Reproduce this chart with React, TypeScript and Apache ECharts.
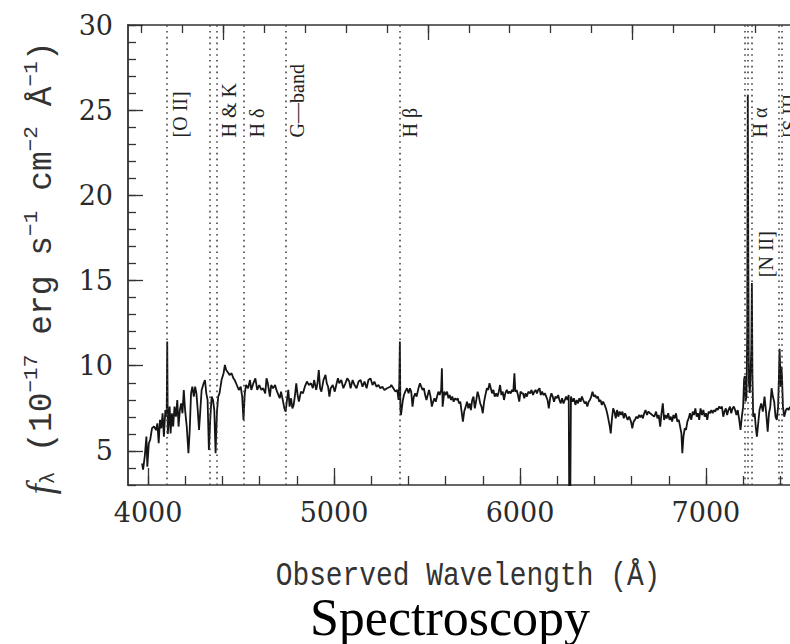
import React, { useEffect, useRef } from 'react';
import * as echarts from 'echarts';

// ---- axis ranges & ticks ----
const X_MIN = 3892;
const X_MAX = 7452;
const Y_MIN = 3;
const Y_MAX = 30;
const redshift = 0.1009;

const xMajorTicks = [4000, 5000, 6000, 7000];
const xMinorTicks = [4000, 4200, 4400, 4600, 4800, 5000, 5200, 5400, 5600, 5800, 6000, 6200, 6400, 6600, 6800, 7000, 7200, 7400];
const restMajorTicks = [4000, 5000, 6000];
const restMinorTicks = [3600, 3800, 4000, 4200, 4400, 4600, 4800, 5000, 5200, 5400, 5600, 5800, 6000, 6200, 6400, 6600];
const yMajorTicks = [5, 10, 15, 20, 25, 30];
const yMinorTicks = [3, 4, 5, 6, 7, 8, 9, 10, 11, 12, 13, 14, 15, 16, 17, 18, 19, 20, 21, 22, 23, 24, 25, 26, 27, 28, 29, 30];

// ---- spectral features (rest wavelengths, Å) ----
const lineRest = [3727, 3934, 3969, 4102, 4304, 4861, 6548, 6563, 6583, 6716, 6731];
const labelTexts = ['[O II]', 'H & K', 'H δ', 'G—band', 'H β', 'H α', '[N II]', '[S II]'];
const labelRest = [3727, 3969, 4102, 4304, 4861, 6563, 6583, 6731];
const labelFlux = [23.4, 23.4, 23.4, 23.4, 23.4, 23.4, 15.2, 23.4];

// ---- observed spectrum [wavelength Å, flux] ----
const spectrum: [number, number][] = [
  [3968, 4.27], [3973, 3.9], [3982, 4.66], [3991, 5.84], [3996, 4.08], [4004, 5.45], [4011, 5.64], [4021, 6.33], [4032, 6.43], [4043, 6.23],
  [4050, 6.62], [4057, 5.45], [4064, 6.82], [4071, 6.33], [4078, 7.21], [4085, 5.84], [4093, 7.4], [4100, 7.01], [4103, 11.42], [4106, 6.0],
  [4109, 6.43], [4116, 7.6], [4121, 6.03], [4128, 7.21], [4135, 6.43], [4142, 7.6], [4150, 7.01], [4157, 7.99], [4164, 6.43], [4171, 7.4],
  [4178, 7.79], [4185, 7.21], [4192, 8.58], [4199, 7.4], [4208, 6.43], [4217, 4.86], [4224, 6.23], [4231, 8.38], [4238, 8.77], [4246, 8.19],
  [4253, 8.77], [4260, 8.38], [4267, 7.4], [4274, 6.23], [4281, 7.4], [4288, 8.58], [4299, 8.97], [4306, 9.16], [4313, 8.38], [4320, 7.99],
  [4327, 5.05], [4335, 7.01], [4342, 8.19], [4349, 7.99], [4356, 7.4], [4363, 4.86], [4370, 7.21], [4377, 8.19], [4384, 8.38], [4395, 9.16],
  [4406, 9.56], [4413, 10.05], [4420, 9.75], [4427, 9.65], [4438, 9.46], [4449, 9.56], [4459, 9.26], [4466, 9.16], [4477, 8.87], [4488, 8.58],
  [4498, 8.77], [4506, 8.19], [4513, 6.82], [4520, 8.38], [4527, 8.87], [4538, 8.68], [4548, 9.16], [4555, 8.58], [4566, 8.97], [4577, 9.26],
  [4587, 8.58], [4598, 8.87], [4609, 8.58],
  [4619, 8.68], [4630, 8.38], [4637, 9.26], [4644, 8.97], [4655, 8.19], [4662, 8.87], [4672, 8.68], [4683, 8.87], [4690, 8.58], [4701, 8.28],
  [4708, 8.09], [4715, 8.48], [4726, 7.89], [4733, 7.5], [4740, 7.31], [4747, 7.99], [4754, 8.58], [4761, 7.6], [4769, 8.09], [4776, 7.5],
  [4783, 7.7], [4790, 8.28], [4797, 8.97], [4804, 8.28], [4811, 7.89], [4822, 8.48], [4833, 8.38], [4843, 8.77], [4854, 9.07], [4865, 8.87],
  [4876, 8.97], [4886, 8.68], [4893, 9.16], [4904, 8.58], [4911, 8.97], [4918, 9.75], [4925, 8.68], [4932, 8.48], [4943, 9.16], [4954, 9.46],
  [4961, 8.97], [4968, 8.77], [4975, 8.19], [4982, 8.68], [4993, 8.87], [5004, 8.48], [5014, 8.97], [5021, 9.26], [5028, 8.97], [5039, 9.16],
  [5050, 8.68], [5061, 8.97], [5071, 9.26], [5082, 9.07], [5089, 8.68], [5100, 9.16], [5110, 8.87], [5121, 8.68], [5132, 9.07], [5143, 9.16],
  [5153, 8.77], [5164, 9.07], [5175, 8.68], [5185, 9.16], [5196, 9.26], [5207, 8.87], [5217, 9.07], [5228, 8.77], [5239, 8.87], [5249, 8.68],
  [5260, 8.77], [5271, 8.58], [5285, 8.68], [5303, 8.77],
  [5308, 8.87], [5319, 8.68], [5330, 8.48], [5340, 8.58], [5347, 7.99], [5351, 9.0], [5354, 11.42], [5357, 7.4], [5360, 7.1], [5369, 7.89],
  [5376, 8.28], [5383, 8.48], [5392, 8.68], [5401, 8.38], [5408, 8.68], [5415, 8.48], [5422, 7.6], [5429, 8.19], [5437, 8.38], [5444, 8.19],
  [5454, 8.68], [5462, 8.97], [5469, 8.77], [5476, 8.58], [5483, 8.68], [5490, 8.28], [5497, 7.99], [5504, 8.28], [5511, 8.58], [5519, 8.19],
  [5526, 7.6], [5533, 7.89], [5540, 8.09], [5547, 7.89], [5554, 8.19], [5561, 8.48], [5568, 8.28], [5576, 8.58], [5580, 9.85], [5584, 7.6],
  [5593, 8.48], [5601, 8.28], [5608, 8.48], [5615, 8.09], [5622, 8.28], [5629, 7.99], [5636, 8.19], [5643, 7.89], [5650, 8.09], [5658, 7.99],
  [5665, 8.09], [5672, 7.79], [5679, 7.89], [5686, 7.31], [5693, 6.72], [5700, 7.31], [5708, 7.6], [5715, 7.89], [5722, 7.5], [5729, 7.79],
  [5736, 7.4], [5743, 7.99], [5750, 8.19], [5757, 7.5], [5765, 7.99], [5772, 8.48], [5779, 8.19], [5786, 7.79], [5793, 7.6], [5800, 7.21],
  [5807, 7.89], [5814, 8.28], [5822, 8.68], [5829, 8.58], [5836, 8.97], [5843, 8.68], [5850, 8.38], [5857, 8.58], [5864, 8.19], [5872, 8.38],
  [5879, 8.19], [5886, 8.48], [5893, 8.87], [5900, 8.28], [5907, 8.48], [5914, 7.99], [5921, 8.38], [5929, 8.58], [5936, 8.38], [5943, 8.48],
  [5950, 8.38], [5957, 8.58], [5964, 8.48], [5970, 9.56], [5975, 8.48], [5982, 8.58], [5989, 8.28], [5996, 7.89], [6003, 8.48], [6011, 8.38],
  [6016, 8.38], [6023, 8.09], [6030, 8.38], [6037, 8.19], [6045, 8.48], [6055, 8.38], [6062, 8.58], [6070, 8.28], [6077, 8.48], [6084, 8.58],
  [6091, 8.38], [6098, 8.58], [6105, 8.68], [6112, 8.28], [6119, 8.48], [6126, 8.28], [6134, 8.38], [6141, 8.19], [6148, 7.99], [6155, 7.5],
  [6162, 8.09], [6169, 8.38], [6176, 8.19], [6183, 7.89], [6191, 8.19], [6198, 8.09], [6205, 8.28], [6212, 7.99], [6219, 7.79], [6226, 8.09],
  [6234, 7.79], [6241, 7.99], [6248, 8.19], [6255, 7.99], [6262, 8.28], [6265, 1.5], [6270, 1.5], [6274, 8.19], [6283, 7.89], [6290, 8.09],
  [6298, 7.7], [6305, 7.99], [6312, 7.79], [6319, 8.09], [6326, 7.89], [6333, 8.19], [6340, 7.99], [6348, 7.79], [6355, 7.89], [6362, 7.6],
  [6369, 7.89], [6376, 7.99], [6383, 8.19], [6390, 8.48], [6397, 8.19], [6405, 8.28], [6412, 8.09], [6419, 8.19], [6426, 7.89], [6433, 7.99],
  [6440, 7.7], [6447, 7.89], [6455, 7.7], [6462, 7.5], [6469, 7.21], [6476, 6.82], [6483, 6.43], [6488, 6.03], [6494, 6.82], [6501, 7.5],
  [6508, 7.31], [6515, 6.91], [6522, 7.4], [6529, 7.01], [6536, 7.31], [6544, 7.11], [6551, 7.31], [6558, 6.91], [6565, 7.21], [6572, 7.01],
  [6579, 6.82], [6587, 7.01], [6597, 6.72], [6604, 6.33], [6611, 6.72], [6618, 6.82], [6626, 7.01], [6633, 6.91], [6640, 7.11], [6647, 6.97],
  [6654, 7.11], [6661, 6.91], [6668, 7.21], [6675, 7.4], [6683, 7.11], [6690, 7.31], [6700, 7.21], [6711, 7.11],
  [6722, 7.01], [6732, 7.31], [6739, 6.91], [6746, 7.11], [6754, 6.43], [6761, 7.21], [6768, 7.79], [6775, 6.82], [6782, 7.11], [6789, 6.91],
  [6797, 7.21], [6804, 6.82], [6811, 7.01], [6818, 6.72], [6825, 7.11], [6832, 6.91], [6839, 7.21], [6846, 6.72], [6854, 6.82], [6861, 6.43],
  [6868, 6.03], [6873, 4.86], [6879, 5.84], [6886, 6.33], [6893, 6.23], [6900, 6.72], [6907, 6.91], [6914, 7.21], [6921, 6.82], [6929, 7.31],
  [6936, 7.11], [6943, 7.5], [6950, 7.01], [6957, 7.21], [6964, 6.82], [6971, 7.5], [6979, 7.11], [6986, 7.4], [6993, 7.01], [7000, 7.21],
  [7007, 6.82], [7014, 7.31], [7021, 7.21], [7029, 7.4], [7036, 7.21], [7043, 7.4], [7050, 7.31], [7057, 7.5], [7064, 7.4], [7071, 7.6],
  [7079, 7.5], [7086, 7.6], [7093, 7.01], [7100, 7.31], [7107, 7.5], [7114, 7.11], [7121, 7.4], [7129, 7.6], [7136, 7.21], [7143, 7.5],
  [7150, 7.6], [7157, 7.4], [7164, 7.11], [7171, 7.4], [7179, 6.82], [7186, 6.23], [7193, 7.01], [7200, 7.6], [7205, 9.2], [7209, 9.4],
  [7213, 7.9], [7218, 8.2], [7222, 12.0], [7225, 25.9], [7228, 16.0], [7231, 9.0], [7236, 8.4], [7240, 9.6], [7244, 11.0], [7247, 14.85],
  [7250, 9.5], [7254, 7.0], [7262, 7.21], [7268, 6.4], [7274, 5.84], [7281, 6.62], [7288, 7.4], [7297, 7.79], [7306, 7.31], [7315, 8.19],
  [7324, 7.21], [7332, 6.13], [7339, 7.21], [7346, 7.6], [7353, 8.68], [7360, 8.19], [7367, 7.89], [7374, 7.01], [7381, 6.82], [7388, 7.6],
  [7392, 9.16], [7396, 11.0], [7399, 9.95], [7402, 8.77], [7406, 9.95], [7409, 9.36], [7414, 7.6], [7421, 7.01], [7430, 7.4], [7437, 7.5],
  [7444, 7.4], [7452, 7.6],
];

// ---- styling ----
const INK = '#151515';
const AXIS_COLOR = '#333';
const TICK_FONT = 'DejaVu Serif';
const MONO = 'Liberation Mono';
const LABEL_FONT = 'Liberation Serif';
const labelDx = [13, 12, 13, 12, 11, 12, 14, 8];

function buildOption(): any {
  const restMin = X_MIN / (1 + redshift);
  const restMax = X_MAX / (1 + redshift);
  const axisLine = { show: true, lineStyle: { color: AXIS_COLOR, width: 1.5 } };
  const tickLine = { color: AXIS_COLOR, width: 1.3 };
  const tickLabel = {
    fontFamily: TICK_FONT,
    fontSize: 27,
    color: '#2a2a2a',
    formatter: (v: number) => String(v),
  };

  return {
    animation: false,
    backgroundColor: '#fff',
    grid: { left: 128, right: 0, top: 25, bottom: 159, containLabel: false },
    xAxis: [
      {
        type: 'value', position: 'bottom', min: X_MIN, max: X_MAX,
        axisLine,
        axisTick: { show: true, inside: true, length: 17, lineStyle: tickLine, customValues: xMajorTicks },
        axisLabel: { show: true, margin: 14, customValues: xMajorTicks, ...tickLabel },
        splitLine: { show: false },
      },
      {
        type: 'value', position: 'bottom', min: X_MIN, max: X_MAX,
        axisLine: { show: false },
        axisTick: { show: true, inside: true, length: 9, lineStyle: tickLine, customValues: xMinorTicks },
        axisLabel: { show: false },
        splitLine: { show: false },
      },
      {
        type: 'value', position: 'top', min: restMin, max: restMax,
        axisLine,
        axisTick: { show: true, inside: true, length: 15, lineStyle: tickLine, customValues: restMajorTicks },
        axisLabel: { show: false },
        splitLine: { show: false },
      },
      {
        type: 'value', position: 'top', min: restMin, max: restMax,
        axisLine: { show: false },
        axisTick: { show: true, inside: true, length: 8, lineStyle: tickLine, customValues: restMinorTicks },
        axisLabel: { show: false },
        splitLine: { show: false },
      },
    ],
    yAxis: [
      {
        type: 'value', position: 'left', min: Y_MIN, max: Y_MAX,
        axisLine: { show: true, lineStyle: { color: '#444', width: 2 } },
        axisTick: { show: true, inside: true, length: 15, lineStyle: tickLine, customValues: yMajorTicks },
        axisLabel: { show: true, margin: 15, customValues: yMajorTicks, ...tickLabel },
        splitLine: { show: false },
      },
      {
        type: 'value', position: 'left', min: Y_MIN, max: Y_MAX,
        axisLine: { show: false },
        axisTick: { show: true, inside: true, length: 8, lineStyle: tickLine, customValues: yMinorTicks },
        axisLabel: { show: false },
        splitLine: { show: false },
      },
    ],
    series: [
      {
        type: 'line',
        xAxisIndex: 0,
        yAxisIndex: 0,
        data: spectrum,
        symbol: 'none',
        showSymbol: false,
        clip: true,
        lineStyle: { color: INK, width: 1.8 },
        markLine: {
          silent: true,
          symbol: ['none', 'none'],
          label: { show: false },
          lineStyle: { color: '#444', type: [1.6, 4.2], width: 1.6 },
          data: lineRest.map((r) => ({ xAxis: r * (1 + redshift) })),
        },
        z: 3,
      },
      {
        type: 'custom',
        xAxisIndex: 0,
        yAxisIndex: 0,
        data: labelRest.map((r, i) => [r * (1 + redshift), labelFlux[i]]),
        clip: false,
        renderItem: (params: any, api: any) => {
          const p = api.coord([api.value(0), api.value(1)]);
          const i = params.dataIndex;
          return {
            type: 'text',
            x: p[0] + labelDx[i],
            y: p[1],
            rotation: Math.PI / 2,
            style: {
              text: labelTexts[i],
              fontFamily: LABEL_FONT,
              fontSize: 20,
              fill: '#222',
              align: 'left',
              verticalAlign: 'middle',
            },
          };
        },
        z: 4,
      },
    ],
    graphic: [
      {
        type: 'text',
        x: 468,
        y: 576,
        scaleX: 0.82,
        style: {
          text: 'Observed Wavelength (Å)',
          fontFamily: MONO,
          fontSize: 34,
          fill: '#333',
          align: 'center',
          verticalAlign: 'middle',
        },
      },
      {
        type: 'text',
        x: 40,
        y: 268,
        rotation: Math.PI / 2,
        style: {
          text: '{i|f}{sub|λ}{n| (10}{sup|−17}{n| erg s}{sup|−1}{n| cm}{sup|−2}{n| Å}{sup|−1}{n|)}',
          align: 'center',
          verticalAlign: 'middle',
          fill: '#333',
          rich: {
            n: { fontFamily: MONO, fontSize: 33, lineHeight: 38, verticalAlign: 'bottom', fill: '#333' },
            i: { fontFamily: 'Liberation Serif', fontStyle: 'italic', fontSize: 37, lineHeight: 38, verticalAlign: 'bottom', fill: '#333' },
            sup: { fontFamily: MONO, fontSize: 21, lineHeight: 38, verticalAlign: 'top', fill: '#333' },
            sub: { fontFamily: MONO, fontSize: 21, lineHeight: 38, verticalAlign: 'bottom', fill: '#333' },
          },
        },
      },
      {
        type: 'text',
        x: 450,
        y: 617,
        style: {
          text: 'Spectroscopy',
          fontFamily: 'Liberation Serif',
          fontSize: 52,
          fill: '#000',
          align: 'center',
          verticalAlign: 'middle',
        },
      },
    ],
  };
}

export default function App() {
  const ref = useRef<HTMLDivElement>(null);
  useEffect(() => {
    document.body.style.margin = '0';
    const el = ref.current;
    if (!el) return;
    const chart = echarts.init(el, null, { renderer: 'svg' });
    chart.setOption(buildOption());
    return () => {
      chart.dispose();
    };
  }, []);
  return <div ref={ref} style={{ width: 790, height: 644, background: '#fff' }} />;
}
